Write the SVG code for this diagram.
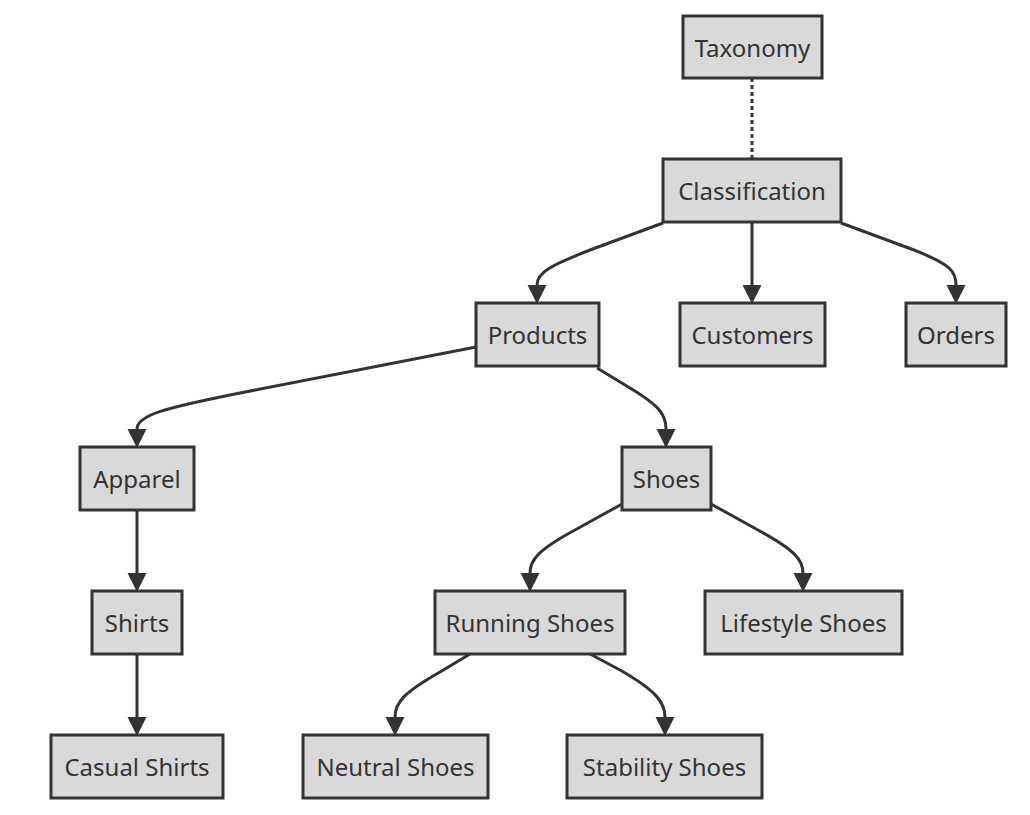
<svg xmlns="http://www.w3.org/2000/svg" width="1030" height="815" viewBox="0 0 1030 815">
<style>
.n rect{fill:#d9d9d9;stroke:#333;stroke-width:3}
.n text{font-family:"Noto Sans","DejaVu Sans",sans-serif;font-size:24px;fill:#333;text-anchor:middle;dominant-baseline:central}
.e path{fill:none;stroke:#333;stroke-width:3}
.e path.a{marker-end:url(#ah)}
.e path.d{stroke-dasharray:4 3}
</style>
<defs>
<marker id="ah" markerUnits="userSpaceOnUse" markerWidth="19" markerHeight="19" refX="0" refY="9.5" orient="auto" overflow="visible">
<path d="M0,0 L19,9.5 L0,19 z" fill="#333"/>
</marker>
</defs>
<rect width="1030" height="815" fill="#fff"/>
<g id="edges" class="e">
<path class="d" d="M752,78 L752,159"/>
<path class="a" d="M663,223 L590,250 C552,265 537,272 537,285"/>
<path class="a" d="M752,222 L752,285"/>
<path class="a" d="M841,223 L914,250 C952,265 956,272 956,285"/>
<path class="a" d="M476,347 L240,393 C165,408 137,415 137,429"/>
<path class="a" d="M597,368 L630,388 C660,406 666,415 666,429"/>
<path class="a" d="M137,510 L137,573"/>
<path class="a" d="M137,654 L137,717"/>
<path class="a" d="M622,504 L575,530 C538,550 530,560 530,573"/>
<path class="a" d="M711,504 L758,530 C795,550 803,560 803,573"/>
<path class="a" d="M470,654 L440,672 C405,692 395,702 395,717"/>
<path class="a" d="M590,654 L620,670 C655,690 665,702 665,717"/>
</g>
<g id="taxonomy" class="n"><rect x="683" y="16" width="139" height="62"/><text x="752.5" y="47">Taxonomy</text></g>
<g id="classification" class="n"><rect x="663" y="159" width="178" height="63"/><text x="752" y="190.5">Classification</text></g>
<g id="products" class="n"><rect x="476" y="303" width="123" height="63"/><text x="537.5" y="334.5">Products</text></g>
<g id="customers" class="n"><rect x="680" y="303" width="145" height="63"/><text x="752.5" y="334.5">Customers</text></g>
<g id="orders" class="n"><rect x="906" y="303" width="100" height="63"/><text x="956" y="334.5">Orders</text></g>
<g id="apparel" class="n"><rect x="80" y="447" width="114" height="63"/><text x="137" y="478.5">Apparel</text></g>
<g id="shoes" class="n"><rect x="622" y="447" width="89" height="63"/><text x="666.5" y="478.5">Shoes</text></g>
<g id="shirts" class="n"><rect x="92" y="591" width="90" height="63"/><text x="137" y="622.5">Shirts</text></g>
<g id="running" class="n"><rect x="435" y="591" width="190" height="63"/><text x="530" y="622.5">Running Shoes</text></g>
<g id="lifestyle" class="n"><rect x="705" y="591" width="197" height="63"/><text x="803.5" y="622.5">Lifestyle Shoes</text></g>
<g id="casual" class="n"><rect x="51" y="735" width="172" height="63"/><text x="137" y="766.5">Casual Shirts</text></g>
<g id="neutral" class="n"><rect x="303" y="735" width="185" height="63"/><text x="395.5" y="766.5">Neutral Shoes</text></g>
<g id="stability" class="n"><rect x="567" y="735" width="195" height="63"/><text x="664.5" y="766.5">Stability Shoes</text></g>
</svg>
